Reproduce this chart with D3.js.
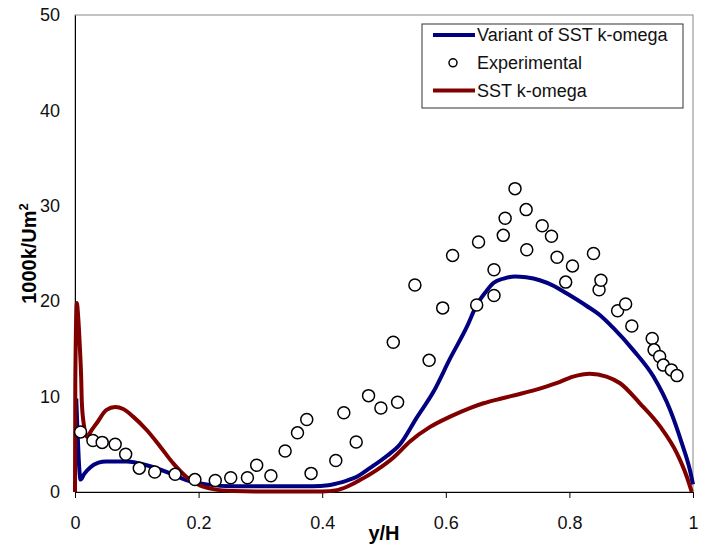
<!doctype html>
<html>
<head>
<script src="https://d3js.org/d3.v7.min.js"></script>
<style>
  body, html { margin: 0; padding: 0; overflow: hidden; background: #fff; }
  text { font-family: "Liberation Sans", Arial, sans-serif; }
</style>
</head>
<body>
<script>
// Variant of SST k-omega  [y/H, 1000k/Um^2]
const variant = [
  [0.002, 9.8], [0.004, 6.5], [0.006, 3.5], [0.009, 1.3], [0.015, 1.9], [0.025, 2.6],
  [0.038, 3.07], [0.05, 3.2], [0.084, 3.2], [0.116, 2.8], [0.154, 1.95], [0.18, 1.25],
  [0.213, 0.8], [0.256, 0.6], [0.3, 0.6], [0.385, 0.6], [0.41, 0.7], [0.424, 0.9],
  [0.44, 1.2], [0.456, 1.6], [0.477, 2.5], [0.505, 3.8], [0.526, 5.0], [0.553, 7.8],
  [0.58, 10.5], [0.607, 14.0], [0.634, 17.3], [0.65, 19.6], [0.665, 21.0], [0.677, 21.9],
  [0.695, 22.4], [0.712, 22.6], [0.73, 22.5], [0.752, 22.2], [0.775, 21.6], [0.796, 20.8],
  [0.828, 19.5], [0.85, 18.5], [0.871, 17.2], [0.903, 14.9], [0.936, 12.1], [0.963, 8.6],
  [0.982, 5.1], [0.995, 2.3], [1.0, 0.8]
];

// SST k-omega
const sst = [
  [0, 0], [0.0005, 11.7], [0.003, 19.8], [0.005, 18.5], [0.008, 15], [0.010, 12],
  [0.011, 9.5], [0.014, 7.2], [0.019, 5.8], [0.027, 6.5], [0.035, 7.2], [0.051, 8.6],
  [0.065, 8.9], [0.078, 8.7], [0.094, 7.9], [0.116, 6.5], [0.138, 4.75], [0.159, 3.0],
  [0.18, 1.6], [0.202, 0.7], [0.224, 0.3], [0.256, 0.1], [0.3, 0.05], [0.4, 0.05],
  [0.424, 0.2], [0.44, 0.55], [0.461, 1.25], [0.488, 2.3], [0.515, 3.6], [0.542, 5.3],
  [0.574, 6.8], [0.607, 7.9], [0.639, 8.8], [0.661, 9.3], [0.69, 9.8], [0.715, 10.2],
  [0.745, 10.7], [0.779, 11.4], [0.806, 12.1], [0.833, 12.4], [0.86, 12.1], [0.882, 11.4],
  [0.914, 9.3], [0.947, 6.85], [0.974, 4.05], [0.99, 1.6], [0.998, 0]
];

// Experimental
const experimental = [
  [0.009, 6.3], [0.029, 5.4], [0.044, 5.2], [0.065, 5.0], [0.082, 3.95], [0.104, 2.5],
  [0.129, 2.1], [0.162, 1.85], [0.194, 1.3], [0.227, 1.2], [0.252, 1.5], [0.279, 1.5],
  [0.294, 2.8], [0.317, 1.7], [0.34, 4.3], [0.36, 6.2], [0.375, 7.6], [0.382, 1.95],
  [0.422, 3.3], [0.435, 8.3], [0.455, 5.25], [0.475, 10.1], [0.495, 8.8], [0.515, 15.7],
  [0.522, 9.4], [0.550, 21.7], [0.573, 13.8], [0.595, 19.3], [0.611, 24.8], [0.650, 19.6],
  [0.653, 26.2], [0.678, 23.3], [0.678, 20.6], [0.693, 26.9], [0.696, 28.7], [0.712, 31.8],
  [0.730, 29.6], [0.731, 25.4], [0.756, 27.9], [0.771, 26.8], [0.780, 24.6], [0.794, 22.0],
  [0.805, 23.7], [0.839, 25.0], [0.848, 21.2], [0.851, 22.2], [0.878, 19.0], [0.891, 19.7],
  [0.901, 17.4], [0.934, 16.1], [0.937, 14.9], [0.946, 14.2], [0.952, 13.3], [0.965, 12.8],
  [0.974, 12.2]
];

const xTicks = [0, 0.2, 0.4, 0.6, 0.8, 1];
const yTicks = [0, 10, 20, 30, 40, 50];
const legendItems = ["Variant of SST k-omega", "Experimental", "SST k-omega"];

const width = 706, height = 546;
const margin = { top: 15, right: 13, bottom: 54, left: 75 };

const svg = d3.create("svg")
  .attr("width", width)
  .attr("height", height)
  .attr("viewBox", [0, 0, width, height]);

const x = d3.scaleLinear().domain([0, 1]).range([margin.left, width - margin.right]);
const y = d3.scaleLinear().domain([0, 50]).range([height - margin.bottom, margin.top]);

// plot frame
svg.append("rect")
  .attr("x", x(0)).attr("y", y(50))
  .attr("width", x(1) - x(0)).attr("height", y(0) - y(50))
  .attr("fill", "none").attr("stroke", "#888").attr("stroke-width", 1);

const xAxis = svg.append("g")
  .attr("transform", `translate(0,${y(0)})`)
  .call(d3.axisBottom(x).tickValues(xTicks).tickFormat(d3.format("~g")).tickSize(6).tickPadding(18).tickSizeOuter(0));
const yAxis = svg.append("g")
  .attr("transform", `translate(${x(0)},0)`)
  .call(d3.axisLeft(y).tickValues(yTicks).tickSize(0).tickPadding(15).tickSizeOuter(0));

[xAxis, yAxis].forEach(g => {
  g.select(".domain").attr("stroke", "#000").attr("stroke-width", 1);
  g.selectAll(".tick line").attr("stroke", "#000");
  g.selectAll(".tick text").attr("font-size", 18).attr("fill", "#111")
    .attr("font-family", "Liberation Sans, Arial, sans-serif");
});

// axis titles
svg.append("text")
  .attr("x", (x(0) + x(1)) / 2).attr("y", 540)
  .attr("text-anchor", "middle")
  .attr("font-size", 20).attr("font-weight", "bold")
  .text("y/H");

const yTitle = svg.append("text")
  .attr("transform", `translate(36,${(y(0) + y(50)) / 2}) rotate(-90)`)
  .attr("text-anchor", "middle")
  .attr("font-size", 20).attr("font-weight", "bold");
yTitle.append("tspan").text("1000k/Um");
yTitle.append("tspan").attr("font-size", 13).attr("dy", -8).text("2");

const line = d3.line().x(d => x(d[0])).y(d => y(d[1])).curve(d3.curveMonotoneX);

svg.append("path").datum(variant)
  .attr("d", line).attr("fill", "none")
  .attr("stroke", "#000080").attr("stroke-width", 4)
  .attr("stroke-linejoin", "round");

svg.append("path").datum(sst)
  .attr("d", line).attr("fill", "none")
  .attr("stroke", "#800000").attr("stroke-width", 4)
  .attr("stroke-linejoin", "round");

svg.append("g")
  .selectAll("circle")
  .data(experimental)
  .join("circle")
  .attr("cx", d => x(d[0])).attr("cy", d => y(d[1]))
  .attr("r", 6)
  .attr("fill", "#fff").attr("stroke", "#000").attr("stroke-width", 1.5);

// legend
const legend = svg.append("g");
legend.append("rect")
  .attr("x", 422).attr("y", 24).attr("width", 261).attr("height", 84)
  .attr("fill", "#fff").attr("stroke", "#333").attr("stroke-width", 1);

const rows = legend.selectAll("g.row")
  .data(legendItems)
  .join("g")
  .attr("class", "row")
  .attr("transform", (d, i) => `translate(0,${35 + i * 27.8})`);

rows.filter((d, i) => i !== 1).append("line")
  .attr("x1", 433).attr("x2", 475)
  .attr("stroke", (d, i) => i === 0 ? "#000080" : "#800000")
  .attr("stroke-width", 4);

rows.filter((d, i) => i === 1).append("circle")
  .attr("cx", 453).attr("r", 4)
  .attr("fill", "#fff").attr("stroke", "#000").attr("stroke-width", 1.5);

rows.append("text")
  .attr("x", 477).attr("dy", "0.35em")
  .attr("font-size", 18).attr("fill", "#111")
  .text(d => d);

document.body.appendChild(svg.node());
</script>
</body>
</html>
